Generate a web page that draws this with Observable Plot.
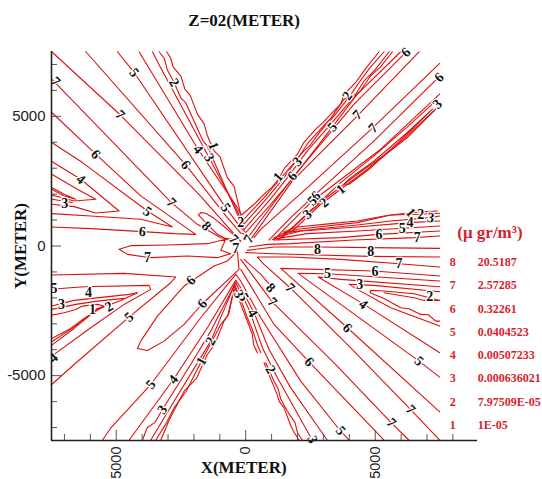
<!DOCTYPE html>
<html>
<head>
<meta charset="utf-8">
<script src="https://cdn.jsdelivr.net/npm/d3@7"></script>
<script src="https://cdn.jsdelivr.net/npm/@observablehq/plot@0.6"></script>
<style>html,body{margin:0;padding:0;background:#fff;overflow:hidden}svg{display:block;background:#fff}</style>
</head>
<body>
<div id="chart"></div>
<script>
// Contour polylines, in metres
const nw7a=[[-7490,7490],[-4850,5060],[-1870,2060],[-320,320]];
const nw7b=[[-7490,6435],[-2870,1670],[-1865,835],[-965,320],[-515,255]];
const nw8=[[-1737,1287],[-1828,1197],[-1609,965],[-1094,450],[-322,39],[-193,193],[-708,644],[-1223,1068],[-1544,1261],[-1737,1287]];
const nw6a=[[-6180,7500],[-2317,3127],[-708,1094],[-193,500],[129,386]];
const nw5a=[[-4955,7490],[-4311,6692],[-772,1480],[-193,708],[0,515]];
const nw4a=[[-4118,7490],[-1840,3732],[-322,1480],[-100,1000],[-64,644]];
const nw3a=[[-3603,7490],[-3300,6900],[-1416,3410],[-322,1351],[-200,1000],[-129,772]];
const nw2a=[[-3346,7490],[-3150,7250],[-3030,6800],[-2767,6306],[-2500,5700],[-2320,5530],[-1650,4050],[-1480,3850],[-837,2381],[-322,1222],[-129,965]];
const nw1a=[[-3050,7490],[-2900,7250],[-2800,6900],[-2510,6564],[-2350,6050],[-2140,5800],[-1866,5084],[-1600,4700],[-1480,4250],[-1223,3668],[-1000,3450],[-708,2638],[-450,2300],[-193,1222],[-129,1223]];
const nw6b=[[-7490,5148],[-5792,3539],[-4054,1931],[-1930,450],[-2767,476],[-3990,553],[-5985,669],[-7490,734]];
const nw5b=[[-7490,3990],[-6306,3217],[-3797,1351],[-2831,733],[-4054,1030],[-5985,1158],[-7490,1248]];
const nw4b=[[-7490,3256],[-6370,2574],[-4890,1351],[-5790,1274],[-6628,1519],[-7490,1609]];
const nw3b=[[-7490,2767],[-6500,2188],[-5790,1802],[-6628,1737],[-7490,1970]];
const nw2b=[[-7490,2252],[-7013,1995],[-6564,1802],[-7013,1930],[-7490,2188]];
const nw1b=[[-7490,1800],[-7050,1737],[-6700,1680]];

const ne1a=[[-129,1223],[322,1609],[772,2059],[1000,2250],[1223,2510],[1500,3000],[1995,3539],[2250,4000],[2703,4505],[3000,4780],[3350,5150],[3668,5470],[3800,5850],[4247,6306],[4600,6800],[5148,7490]];
const ne2a=[[-129,965],[708,1866],[1158,2381],[1500,2780],[1995,3346],[2400,3970],[2767,4376],[3300,4950],[3797,5663],[4000,5750],[4376,6306],[4800,6880],[5341,7490]];
const ne3a=[[-129,772],[837,1866],[1480,2638],[2124,3539],[2500,3900],[2896,4440],[3400,5000],[3925,5663],[4250,5850],[4569,6371],[5000,6800],[5534,7490]];
const ne4a=[[-64,644],[901,1737],[1609,2638],[2381,3668],[3282,4698],[4054,5598],[4400,5950],[4826,6564],[5200,6900],[5663,7490]];
const ne5a=[[0,515],[965,1609],[1737,2510],[3282,4505],[4311,5856],[5985,7490]];
const ne6a=[[129,386],[1866,2703],[4183,5470],[6178,7465]];
const ne7a=[[193,257],[1802,2510],[4311,5019],[6692,7490]];
const ne7b=[[322,322],[579,644],[2381,2252],[4891,4543],[7490,7040]];
const ne6b=[[7336,6396],[4955,4054],[2767,2059],[1737,1094],[901,232]];
const ne5b=[[7490,5856],[5212,3732],[2574,1737],[1480,644],[1094,232]];
const ne4b=[[7336,5598],[6242,4595],[4955,3475],[3668,2445],[2767,1609],[1866,772],[1248,232]];
const ne3b=[[7400,5341],[7014,4981],[6242,4247],[5212,3410],[4311,2767],[3089,1840],[2445,1287],[1416,322]];
const ne2b=[[7272,5212],[6242,4183],[5341,3475],[4698,2960],[3668,2188],[2896,1609],[1737,515]];
const ne1b=[[3797,2381],[4054,2638],[4826,3179],[5341,3604],[6242,4376],[7207,5277],[6371,4440],[5470,3604],[4762,2960],[3990,2381],[3797,2381]];

const e7top=[[7490,386],[6500,322],[4183,232],[1737,90],[837,64],[129,-39]];
const e6a=[[7490,579],[5148,450],[3668,322],[1094,232]];
const e5a=[[7490,772],[6049,682],[4311,579],[2381,476],[1030,257]];
const e4a=[[7490,965],[6306,901],[4311,734],[2124,579],[1094,322]];
const e3a=[[7490,1158],[7143,1094],[5598,965],[4311,811],[3025,682],[1480,515],[1287,386]];
const e2a=[[7490,1261],[6757,1223],[5598,1197],[4311,901],[1995,644],[1416,476]];
const e1a=[[7400,1351],[6371,1287],[5341,1158],[4311,965],[3282,862],[1995,734],[1480,553]];
const e8a=[[7490,-90],[4826,-64],[2767,-39],[1094,-39],[64,-167]];
const e8b=[[7490,-425],[4826,-399],[2767,-347],[1094,-296],[0,-257]];
const e7b=[[7490,-811],[5920,-682],[3668,-515],[1737,-425],[450,-425],[708,-708],[1712,-1609],[4054,-3925],[6371,-6306],[7490,-7490]];
const e6b=[[7490,-1158],[4955,-965],[1351,-862],[3925,-3153],[7490,-6396]];
const e5b=[[7490,-1351],[3153,-1068],[2021,-1055],[3668,-2252],[6692,-4440],[7490,-5058]];
const e4b=[[7490,-1570],[3668,-1287],[2793,-1197],[4569,-2252],[7490,-4118]];
const e3b=[[7490,-1763],[4955,-1519],[3990,-1480],[4311,-1673],[5598,-2381],[7490,-3089]];
const e2b=[[7490,-2098],[6500,-1840],[5341,-1737],[4826,-1712],[4800,-1802],[5341,-2021],[5985,-2381],[6300,-2420],[6757,-2638],[7050,-2650],[7336,-2896],[7490,-2896]];
const e1b=[[5341,-1802],[6500,-1995],[6885,-2098],[7490,-2098]];

const se8=[[-64,-515],[579,-1094],[1094,-1673]];
const se7=[[-193,-515],[1030,-2162],[3411,-4505],[5624,-6821],[6306,-7490]];
const se6=[[-193,-901],[1094,-3025],[2445,-4466],[5341,-7490]];
const se5=[[-386,-1094],[-193,-1351],[579,-2767],[2124,-5212],[3668,-7143],[3990,-7490]];
const se4=[[-386,-1326],[-193,-1609],[322,-2574],[901,-3990],[1737,-5470],[3153,-7490]];
const se3=[[-386,-1416],[-193,-1802],[129,-2445],[644,-3925],[1223,-5084],[2574,-7490]];
const se2a=[[-425,-1480],[-193,-2059],[64,-2767],[250,-3200],[450,-3797],[579,-4118]];
const se2b=[[772,-4505],[1094,-5212],[1250,-5500],[1350,-5900],[1609,-6371],[1900,-6800],[2000,-7200],[2188,-7490]];
const se1a=[[-425,-1544],[-193,-2252],[100,-3000],[257,-3411],[300,-3800],[450,-4118]];
const se1b=[[708,-4505],[1030,-5277],[1200,-5700],[1300,-6000],[1480,-6242],[1750,-6950],[1850,-7150],[2059,-7490]];

const sw5=[[-5534,-7490],[-5200,-7000],[-3668,-5341],[-1737,-2767],[-386,-1094]];
const sw4=[[-4505,-7490],[-2793,-5148],[-1480,-3153],[-386,-1326]];
const sw3=[[-3990,-7490],[-3800,-7000],[-3500,-6800],[-3217,-6306],[-2124,-4569],[-1351,-3282],[-386,-1416]];
const sw2=[[-3668,-7490],[-2767,-5985],[-1351,-3668],[-425,-1480]];
const sw1=[[-3475,-7490],[-3050,-6800],[-2767,-6242],[-2300,-5600],[-1712,-4440],[-965,-3025],[-700,-2700],[-425,-1544]];
const sw0=[[-3282,-7490],[-2950,-6700],[-2381,-5598],[-1900,-5100],[-1480,-4183],[-1200,-3800],[-837,-2896],[-650,-2600],[-450,-1673],[-193,-2124]];
const sw6=[[-4183,-3951],[-4054,-3668],[-3411,-2703],[-2381,-1544],[-1223,-772],[-708,-579],[-322,-193],[-257,-901],[-1673,-2227],[-2381,-3025],[-3153,-3668],[-3797,-4028],[-4183,-3951]];
const w7=[[-4891,-129],[-4440,13],[-3025,39],[-1480,90],[-772,257],[-965,-167],[-579,-296],[-1094,-450],[-2252,-386],[-3668,-450],[-4569,-322],[-4891,-129]];
const w5=[[-7490,-5341],[-6628,-4569],[-4505,-2741],[-2896,-1416],[-2703,-1197],[-4698,-1055],[-7490,-1120]];
const w4=[[-7490,-4247],[-5985,-3153],[-4698,-2252],[-3668,-1673],[-3732,-1519],[-6242,-1570],[-7272,-1647]];
const w3a=[[-7490,-2317],[-6628,-2098],[-4505,-1866],[-4183,-1802]];
const w3b=[[-7490,-3822],[-6628,-3179],[-5727,-2445],[-4826,-2098],[-4183,-1802]];
const w2a=[[-7490,-2445],[-6564,-2252],[-5727,-2124],[-4698,-2021]];
const w2b=[[-7490,-3694],[-6628,-3127],[-5727,-2407],[-5277,-2252]];
const w1=[[-7490,-2664],[-7014,-2574],[-6564,-2445],[-6306,-2317],[-5727,-2252],[-5470,-2317],[-6242,-2793],[-6757,-3179],[-7490,-3565]];

const contours=[nw7a,nw7b,nw8,nw6a,nw5a,nw4a,nw3a,nw2a,nw1a,nw6b,nw5b,nw4b,nw3b,nw2b,nw1b,
  ne1a,ne2a,ne3a,ne4a,ne5a,ne6a,ne7a,ne7b,ne6b,ne5b,ne4b,ne3b,ne2b,ne1b,
  e7top,e6a,e5a,e4a,e3a,e2a,e1a,e8a,e8b,e7b,e6b,e5b,e4b,e3b,e2b,e1b,
  se8,se7,se6,se5,se4,se3,se2a,se2b,se1a,se1b,
  sw5,sw4,sw3,sw2,sw1,sw0,sw6,w7,w5,w4,w3a,w3b,w2a,w2b,w1];

// Contour labels: level, x, y, angle
const contourLabels=[
["5",-4311,6692,50],["2",-2767,6306,60],["7",-4852,5058,45],["7",-7336,6345,45],["6",-5792,3539,45],["6",-2317,3127,50],
["1",-1248,3861,70],["4",-1840,3732,50],["3",-1416,3410,60],["4",-6371,2574,40],["7",-2870,1673,45],["5",-3797,1326,35],
["3",-6988,1634,0],["5",-772,1480,55],["6",-3990,553,5],["8",-1519,772,45],["2",-193,888,0],
["7",-463,270,45],["7",116,270,-60],["7",-386,-116,0],
["6",6178,7465,-45],["2",3925,5791,-55],["7",4311,5058,-45],["5",3346,4595,-50],["7",4916,4543,-45],["6",7465,6500,-45],
["3",7400,5470,-45],["3",1995,3256,-45],["1",1248,2664,-50],["6",1802,2703,-50],["6",2703,1931,-45],["5",2574,1737,-45],
["2",3025,1673,-40],["1",3668,2188,-40],["3",2381,1223,-40],["1",6371,1287,50],["2",6757,1223,0],["3",7143,1094,10],
["4",6345,901,0],["5",6049,682,0],["6",5148,450,0],["7",6628,322,0],
["8",2767,-129,0],["8",4826,-219,0],["7",5920,-682,0],["6",4993,-965,0],["5",3153,-1068,0],["3",4402,-1480,0],["4",4543,-2252,40],
["2",7104,-1956,0],["5",6692,-4440,40],["6",3925,-3153,45],["7",1712,-1609,45],["8",965,-1609,45],["7",1030,-2162,45],["6",2445,-4466,45],
["7",6371,-6306,45],["7",5624,-6821,45],["5",3668,-7117,50],["3",2574,-7465,70],["2",965,-4762,60],["4",270,-2586,60],["5",-77,-1969,60],["3",-270,-1853,60],
["7",-3797,-450,0],["6",-2124,-1326,-45],["6",-1673,-2227,-50],["5",-4505,-2741,-40],["4",-6075,-1802,0],["5",-7400,-1647,0],
["3",-7117,-2252,0],["1",-5920,-2445,0],["2",-5277,-2342,-30],["4",-7426,-4311,-40],["5",-3668,-5341,-50],["4",-2793,-5148,-50],
["2",-1351,-3668,-60],["1",-1712,-4440,-60],["3",-3217,-6306,-55]];

const legendLevels=["8","7","6","5","4","3","2","1"];
const legendValues=["20.5187","2.57285","0.32261","0.0404523","0.00507233","0.000636021","7.97509E-05","1E-05"];
const majorTicks=[-5000,0,5000];
const minorTicks=[-7000,-6000,-4000,-3000,-2000,-1000,1000,2000,3000,4000,6000,7000,8000];
const minorYTicks=minorTicks.filter(d=>d<7500);

const serif="'Liberation Serif','Times New Roman',serif";
const sans="'Liberation Sans',Arial,sans-serif";
const red="#dd1010", textRed="#d81e2e";
const legendTop=-620, legendStep=-899;

const chart=Plot.plot({
  width:542,height:479,marginTop:51,marginBottom:39,marginLeft:51,marginRight:65,
  style:{background:"#fff"},
  x:{domain:[-7500,8950]},
  y:{domain:[-7500,7500]},
  marks:[
    ...contours.map(c=>Plot.line(c,{x:d=>d[0],y:d=>d[1],stroke:red,strokeWidth:1.1,curve:"linear"})),
    Plot.text(contourLabels,{x:d=>d[1],y:d=>d[2],text:d=>d[0],rotate:d=>d[3],fontFamily:serif,fontSize:14,fontWeight:"bold",fill:"#111",stroke:"white",strokeWidth:2.5}),
    Plot.axisX({ticks:minorTicks,tickSize:-6,stroke:"#555",tickFormat:()=>"",label:null}),
    Plot.axisY({ticks:minorYTicks,tickSize:-6,stroke:"#555",tickFormat:()=>"",label:null}),
    Plot.axisX({ticks:majorTicks,tickSize:-10,tickPadding:16,tickRotate:-90,stroke:"#555",fontSize:14.5,fontFamily:sans,fill:"#222",tickFormat:d=>String(d),label:null}),
    Plot.axisY({ticks:majorTicks,tickSize:-10,tickPadding:16,stroke:"#555",fontSize:15,fontFamily:sans,fill:"#222",tickFormat:d=>String(d),label:null}),
    Plot.ruleX([-7500],{stroke:"#222",strokeWidth:1.6}),
    Plot.ruleY([-7500],{stroke:"#222",strokeWidth:1.6}),
    Plot.text(["Z=02(METER)"],{x:()=>-60,y:()=>8685,fontFamily:serif,fontSize:17,fontWeight:"bold",fill:"#111"}),
    Plot.text(["X(METER)"],{x:()=>-80,y:()=>-8530,fontFamily:serif,fontSize:17,fontWeight:"bold",fill:"#111"}),
    Plot.text(["Y(METER)"],{x:()=>-8685,y:()=>0,rotate:-90,fontFamily:serif,fontSize:17,fontWeight:"bold",fill:"#111"}),
    Plot.text(["(μ gr/m³)"],{x:()=>8170,y:()=>500,textAnchor:"start",fontFamily:serif,fontSize:17,fontWeight:"bold",fill:textRed}),
    Plot.text(legendLevels,{x:()=>7874,y:(d,i)=>legendTop+i*legendStep,textAnchor:"start",fontFamily:serif,fontSize:12,fontWeight:"bold",fill:textRed}),
    Plot.text(legendValues,{x:()=>8955,y:(d,i)=>legendTop+i*legendStep,textAnchor:"start",fontFamily:serif,fontSize:12,fontWeight:"bold",fill:textRed})
  ]
});
document.getElementById("chart").appendChild(chart);
</script>
</body>
</html>
